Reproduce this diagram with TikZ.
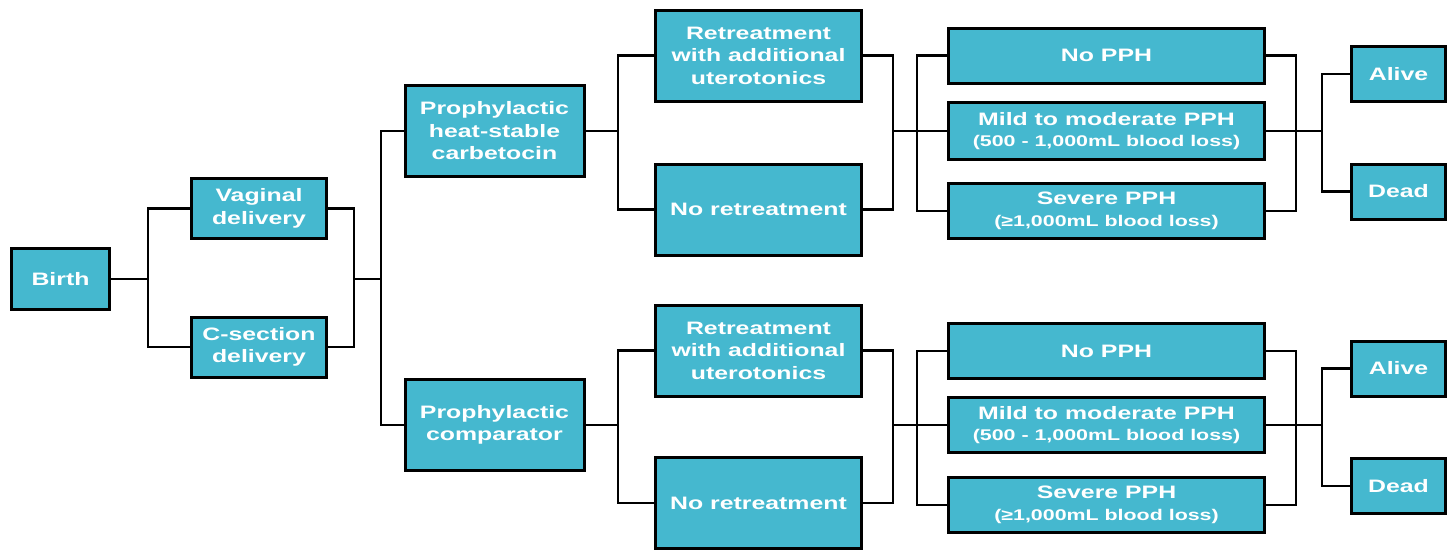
\documentclass[tikz,border=0pt]{standalone}
\usepackage{fontspec}
\usepackage{tikz}
\newfontfamily\boxfont{Liberation Sans}[FakeStretch=1.38]
\definecolor{boxblue}{RGB}{69,184,207}
\newcommand{\lossline}[1]{{\fontsize{15.5}{19}\selectfont #1}}

\begin{document}
\begin{tikzpicture}[
  x=1pt, y=-1pt,
  box/.style={
    rectangle, draw, line width=3pt, fill=boxblue,
    text=white, inner sep=0pt, align=center,
    font=\boxfont\bfseries\fontsize{18}{22.5}\selectfont
  },
  link/.style={line width=2.2pt}
]
  \useasboundingbox (0,0) rectangle (1451,550);

  % Tree nodes
  \node[box, minimum width=98pt, minimum height=61pt] (birth) at (60.5,279) {Birth};
  \node[box, minimum width=135pt, minimum height=60pt] (vag) at (259,208.5) {Vaginal\\delivery};
  \node[box, minimum width=135pt, minimum height=60pt] (csec) at (259,347) {C-section\\delivery};

  \node[box, minimum width=179pt, minimum height=91pt] (carb) at (494.5,131) {Prophylactic\\heat-stable\\carbetocin};
  \node[box, minimum width=179pt, minimum height=91pt] (comp) at (494.5,425) {Prophylactic\\comparator};

  \node[box, minimum width=206pt, minimum height=91pt] (retA) at (758.5,55.5) {Retreatment\\with additional\\uterotonics};
  \node[box, minimum width=206pt, minimum height=91pt] (norA) at (758.5,209.5) {No retreatment};
  \node[box, minimum width=206pt, minimum height=91pt] (retB) at (758.5,350.5) {Retreatment\\with additional\\uterotonics};
  \node[box, minimum width=206pt, minimum height=91pt] (norB) at (758.5,503) {No retreatment};

  \node[box, minimum width=316pt, minimum height=55pt] (nopphA) at (1106.5,55.5) {No PPH};
  \node[box, minimum width=316pt, minimum height=57pt] (mildA) at (1106.5,131) {Mild to moderate PPH\\[-2pt]\lossline{(500 - 1,000mL blood loss)}};
  \node[box, minimum width=316pt, minimum height=55pt] (sevA) at (1106.5,211) {Severe PPH\\[-1pt]\lossline{(\symbol{"2265}1,000mL blood loss)}};
  \node[box, minimum width=316pt, minimum height=55pt] (nopphB) at (1106.5,351) {No PPH};
  \node[box, minimum width=316pt, minimum height=55pt] (mildB) at (1106.5,425) {Mild to moderate PPH\\[-2pt]\lossline{(500 - 1,000mL blood loss)}};
  \node[box, minimum width=316pt, minimum height=55pt] (sevB) at (1106.5,505) {Severe PPH\\[-1pt]\lossline{(\symbol{"2265}1,000mL blood loss)}};

  \node[box, minimum width=94pt, minimum height=55pt] (aliveA) at (1398.5,74) {Alive};
  \node[box, minimum width=94pt, minimum height=55pt] (deadA) at (1398.5,191.5) {Dead};
  \node[box, minimum width=94pt, minimum height=55pt] (aliveB) at (1398.5,368.5) {Alive};
  \node[box, minimum width=94pt, minimum height=55pt] (deadB) at (1398.5,486) {Dead};

  % Branch points
  \coordinate (fork0) at (148,279);
  \coordinate (join0) at (354,279);
  \coordinate (fork1) at (381,279);
  \coordinate (forkA) at (618,131);
  \coordinate (joinA) at (893,131);
  \coordinate (splitA) at (917,131);
  \coordinate (endA) at (1296,131);
  \coordinate (outA) at (1322,131);
  \coordinate (forkB) at (618,425);
  \coordinate (joinB) at (893,425);
  \coordinate (splitB) at (917,425);
  \coordinate (endB) at (1296,425);
  \coordinate (outB) at (1322,425);

  % Connectors
  \draw[link] (birth.east) -- (fork0);
  \draw[link] (fork0) |- (vag.west);
  \draw[link] (fork0) |- (csec.west);
  \draw[link] (vag.east) -| (join0) |- (csec.east);
  \draw[link] (join0) -- (fork1);
  \draw[link] (fork1) |- (carb.west);
  \draw[link] (fork1) |- (comp.west);

  \draw[link] (carb.east) -- (forkA);
  \draw[link] (forkA) |- (retA.west);
  \draw[link] (forkA) |- (norA.west);
  \draw[link] (retA.east) -| (joinA) |- (norA.east);
  \draw[link] (joinA) -- (mildA.west);
  \draw[link] (splitA) |- (nopphA.west);
  \draw[link] (splitA) |- (sevA.west);
  \draw[link] (nopphA.east) -| (endA) |- (sevA.east);
  \draw[link] (mildA.east) -- (outA);
  \draw[link] (outA) |- (aliveA.west);
  \draw[link] (outA) |- (deadA.west);

  \draw[link] (comp.east) -- (forkB);
  \draw[link] (forkB) |- (retB.west);
  \draw[link] (forkB) |- (norB.west);
  \draw[link] (retB.east) -| (joinB) |- (norB.east);
  \draw[link] (joinB) -- (mildB.west);
  \draw[link] (splitB) |- (nopphB.west);
  \draw[link] (splitB) |- (sevB.west);
  \draw[link] (nopphB.east) -| (endB) |- (sevB.east);
  \draw[link] (mildB.east) -- (outB);
  \draw[link] (outB) |- (aliveB.west);
  \draw[link] (outB) |- (deadB.west);
\end{tikzpicture}
\end{document}
